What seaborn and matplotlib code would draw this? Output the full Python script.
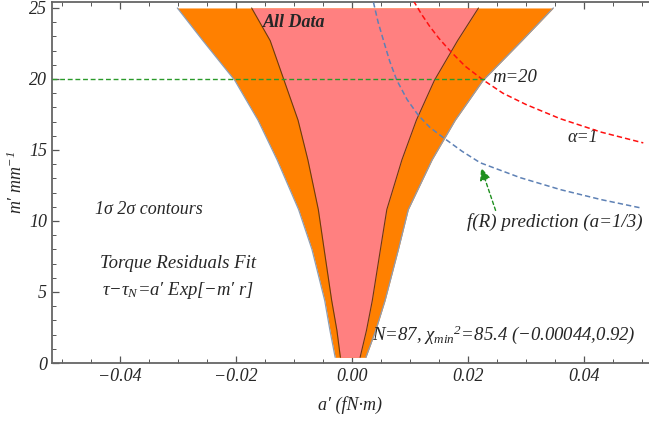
import numpy as np
import pandas as pd
import matplotlib
matplotlib.use("Agg")
import matplotlib.pyplot as plt
from matplotlib.ticker import MultipleLocator, FuncFormatter
import seaborn as sns

# --- confidence contours of the torque-residual fit (a', m') ---
m_levels     = [25.0, 22.7, 19.9, 17.1, 14.3, 10.8, 8.0, 4.4, 2.3, 0.4]
two_sig_lo   = [-0.0301, -0.0257, -0.0202, -0.0162, -0.0129, -0.0092, -0.0069, -0.0047, -0.0038, -0.0029]
one_sig_lo   = [-0.0173, -0.0141, -0.0117, -0.0093, -0.0076, -0.0058, -0.0048, -0.0035, -0.0026, -0.0020]
one_sig_hi   = [0.0218, 0.0182, 0.0142, 0.0111, 0.0086, 0.0060, 0.0049, 0.0035, 0.0025, 0.0014]
two_sig_hi   = [0.0347, 0.0293, 0.0226, 0.0178, 0.0138, 0.0097, 0.0080, 0.0057, 0.0041, 0.0024]

# --- model curves ---
alpha1_a = [0.0106, 0.0120, 0.0134, 0.0150, 0.0169, 0.0195, 0.0226, 0.0260, 0.0300, 0.0359, 0.0430, 0.0502]
alpha1_m = [25.5, 24.55, 23.7, 22.85, 21.98, 20.9, 19.93, 19.0, 18.2, 17.2, 16.25, 15.5]
fR_a     = [0.0037, 0.0045, 0.0054, 0.0065, 0.0077, 0.0095, 0.0114, 0.0134, 0.0158,
            0.0190, 0.0221, 0.0290, 0.0360, 0.0430, 0.0500]
fR_m     = [25.4, 24.0, 22.75, 21.25, 19.93, 18.55, 17.46, 16.6, 15.85,
            14.9, 14.1, 13.05, 12.2, 11.5, 10.9]

m_line = 20
x_ticks = [-0.04, -0.02, 0.00, 0.02, 0.04]
y_ticks = [0, 5, 10, 15, 20, 25]

sns.set_style("ticks")
plt.rcParams["font.family"] = ["Liberation Serif", "DejaVu Serif"]
plt.rcParams["font.style"] = "italic"
plt.rcParams["mathtext.fontset"] = "custom"
plt.rcParams["mathtext.it"] = "Liberation Serif:italic"
plt.rcParams["mathtext.rm"] = "Liberation Serif:italic"
plt.rcParams["mathtext.bf"] = "Liberation Serif:bold:italic"

FS = 13
ORANGE = "#FF8000"
PINK = "#FF8080"

fig = plt.figure(figsize=(6.49, 4.22), dpi=100)
ax = fig.add_axes([52 / 649, 1 - 363 / 422, (648.5 - 52) / 649, (363 - 2) / 422])

# filled 2-sigma and 1-sigma regions
ax.fill_betweenx(m_levels, two_sig_lo, two_sig_hi, color=ORANGE, lw=0, zorder=1)
ax.fill_betweenx(m_levels, one_sig_lo, one_sig_hi, color=PINK, lw=0, zorder=2)
ax.plot(two_sig_lo, m_levels, color="#8d9db3", lw=0.9, zorder=3)
ax.plot(two_sig_hi, m_levels, color="#8d9db3", lw=0.9, zorder=3)
ax.plot(one_sig_lo, m_levels, color="#6b3a10", lw=0.8, zorder=3)
ax.plot(one_sig_hi, m_levels, color="#6b3a10", lw=0.8, zorder=3)

# model predictions
curves = pd.DataFrame({"a": alpha1_a, "m": alpha1_m})
sns.lineplot(data=curves, x="a", y="m", ax=ax, color="#FF1010", lw=1.1,
             linestyle=(0, (3.5, 2)), zorder=4)
fr = pd.DataFrame({"a": fR_a, "m": fR_m})
sns.lineplot(data=fr, x="a", y="m", ax=ax, color="#5E81B5", lw=1.1,
             linestyle=(0, (3.5, 2)), zorder=4)

# reference line at m = 20
ax.plot([-0.0517, 0.0233], [m_line, m_line], color="#2a9a2a", lw=1.0,
        linestyle=(0, (3.5, 2)), zorder=4)

ax.annotate("", xy=(0.0221, 13.94), xytext=(0.0249, 10.56),
            arrowprops=dict(arrowstyle="-|>,head_length=0.75,head_width=0.32",
                            color="#1f8f1f", lw=1.0, linestyle=(0, (2.5, 2))),
            zorder=5)

# annotations
ax.text(-0.0153, 24.0, "All Data", fontsize=FS, fontweight="bold",
        va="center", ha="left", zorder=6)
ax.text(0.0241, 20.07, "m=20", fontsize=FS + 0.5, va="center", ha="left")
ax.text(0.0372, 15.9, "\u03b1=1", fontsize=FS, va="center", ha="left")
ax.text(0.0198, 9.95, "f(R) prediction (a=1/3)", fontsize=FS + 0.7,
        va="center", ha="left")
ax.text(-0.0443, 10.8, "1\u03c3 2\u03c3 contours", fontsize=FS,
        va="center", ha="left")
ax.text(-0.0434, 7.04, "Torque Residuals Fit", fontsize=FS + 0.5,
        va="center", ha="left")
ax.text(-0.0431, 5.14, "$\\tau$\u2212$\\tau_N$=a\u2032 Exp[\u2212m\u2032 r]", fontsize=FS + 0.4,
        va="center", ha="left")
ax.text(0.0034, 1.97, "N=87, ${\\chi_{min}}^{2}$=85.4 (\u22120.00044,0.92)", fontsize=FS + 0.5,
        va="center", ha="left")

ax.set_xlim(-0.0517, 0.0511)
ax.set_ylim(0, 25.42)

ax.set_xticks(x_ticks)
ax.set_yticks(y_ticks)
ax.xaxis.set_minor_locator(MultipleLocator(0.005))
ax.yaxis.set_minor_locator(MultipleLocator(1))
ax.xaxis.set_major_formatter(FuncFormatter(lambda v, p: f"{v:.2f}".replace("-", "\u2212")))
ax.yaxis.set_major_formatter(FuncFormatter(lambda v, p: f"{v:.0f}"))
ax.tick_params(which="both", direction="in", top=True, right=False, color="#555555",
               labelsize=FS)
ax.tick_params(which="major", length=5, width=0.9)
ax.tick_params(which="minor", length=3, width=0.7)

for side in ["left", "bottom", "top"]:
    ax.spines[side].set_color("#666666")
    ax.spines[side].set_linewidth(1.3)
ax.spines["right"].set_visible(False)

ax.set_xlabel("a\u2032 (fN\u00b7m)", fontsize=FS, labelpad=8)
ax.set_ylabel("m\u2032 mm$^{-1}$", fontsize=FS, labelpad=2)

fig.savefig("out.png", dpi=100)
